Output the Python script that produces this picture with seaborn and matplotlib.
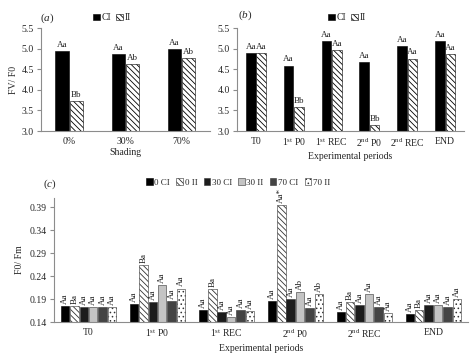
import numpy as np
import pandas as pd
import matplotlib
matplotlib.use("Agg")
import matplotlib.pyplot as plt
import seaborn as sns
from matplotlib.ticker import FixedLocator, MultipleLocator

# ---------------- data ----------------
shading = ["0%", "30%", "70%"]
a_ci = [4.95, 4.87, 5.00]
a_ii = [3.72, 4.63, 4.78]
a_ci_lab = ["Aa", "Aa", "Aa"]
a_ii_lab = ["Bb", "Ab", "Ab"]

periods = ["T0", "1$^{\\mathrm{st}}$ P0", "1$^{\\mathrm{st}}$ REC",
           "2$^{\\mathrm{nd}}$ P0", "2$^{\\mathrm{nd}}$ REC", "END"]
b_ci = [4.89, 4.59, 5.19, 4.68, 5.07, 5.19]
b_ii = [4.89, 3.58, 4.97, 3.15, 4.76, 4.88]
b_ci_lab = ["Aa", "Aa", "Aa", "Aa", "Aa", "Aa"]
b_ii_lab = ["Aa", "Bb", "Aa", "Bb", "Aa", "Aa"]

c_series = ["0 CI", "0 II", "30 CI", "30 II", "70 CI", "70 II"]
c_vals = {
    "0 CI":  [0.175, 0.180, 0.166, 0.186, 0.161, 0.157],
    "0 II":  [0.175, 0.264, 0.211, 0.395, 0.184, 0.167],
    "30 CI": [0.173, 0.183, 0.161, 0.191, 0.176, 0.176],
    "30 II": [0.173, 0.221, 0.150, 0.205, 0.201, 0.176],
    "70 CI": [0.173, 0.186, 0.166, 0.171, 0.173, 0.172],
    "70 II": [0.173, 0.213, 0.164, 0.201, 0.160, 0.191],
}
c_labs = {
    "0 CI":  ["Aa", "Aa", "Aa", "Aa", "Aa", "Aa"],
    "0 II":  ["Ba", "Ba", "Ba", "Aa*", "Ba", "Ba"],
    "30 CI": ["Aa", "Aa", "Aa", "Aa", "Aa", "Aa"],
    "30 II": ["Aa", "Aa", "Aa", "Ab", "Aa", "Aa"],
    "70 CI": ["Aa", "Aa", "Aa", "Aa", "Aa", "Aa"],
    "70 II": ["Aa", "Aa", "Aa", "Ab", "Aa", "Aa"],
}

# ---------------- style ----------------
sns.set_style("white")
plt.rcParams["font.family"] = ["Liberation Serif", "DejaVu Serif"]
plt.rcParams["mathtext.fontset"] = "custom"
plt.rcParams["mathtext.rm"] = "Liberation Serif"
plt.rcParams["mathtext.it"] = "Liberation Serif:italic"
plt.rcParams["hatch.linewidth"] = 0.6
FS = 7
SPINE = "#8c8c8c"

fig = plt.figure(figsize=(4.74, 3.56), dpi=100)
ax_a = fig.add_axes([0.0865, 0.632, 0.356, 0.289])
ax_b = fig.add_axes([0.500, 0.632, 0.479, 0.289])
ax_c = fig.add_axes([0.114, 0.0955, 0.873, 0.348])


def style_axis(ax, n):
    for s in ["top", "right"]:
        ax.spines[s].set_visible(False)
    for s in ["left", "bottom"]:
        ax.spines[s].set_color(SPINE)
        ax.spines[s].set_linewidth(0.8)
    ax.set_xlim(-0.5, n - 0.5)
    ax.xaxis.set_minor_locator(FixedLocator(np.arange(n + 1) - 0.5))
    ax.tick_params(axis="x", which="major", length=0, labelsize=FS, pad=4)
    ax.tick_params(axis="x", which="minor", length=3, color=SPINE, direction="out")
    ax.tick_params(axis="y", length=3, color=SPINE, direction="out",
                   labelsize=FS, pad=2, left=True)


# ---------------- panel (a) ----------------
df_a = pd.DataFrame({
    "cat": shading * 2,
    "val": a_ci + a_ii,
    "grp": ["CI"] * 3 + ["II"] * 3,
})
sns.barplot(data=df_a, x="cat", y="val", hue="grp", order=shading,
            hue_order=["CI", "II"], palette=["black", "white"],
            width=0.5, gap=0.06, ax=ax_a, legend=False)

# ---------------- panel (b) ----------------
df_b = pd.DataFrame({
    "cat": periods * 2,
    "val": b_ci + b_ii,
    "grp": ["CI"] * 6 + ["II"] * 6,
})
sns.barplot(data=df_b, x="cat", y="val", hue="grp", order=periods,
            hue_order=["CI", "II"], palette=["black", "white"],
            width=0.55, gap=0.08, ax=ax_b, legend=False)

for ax, labs in [(ax_a, [a_ci_lab, a_ii_lab]), (ax_b, [b_ci_lab, b_ii_lab])]:
    n = len(labs[0])
    style_axis(ax, n)
    ax.set_ylim(3.0, 5.5)
    ax.yaxis.set_major_locator(MultipleLocator(0.5))
    ax.yaxis.set_major_formatter(matplotlib.ticker.FormatStrFormatter("%.1f"))
    for i, cont in enumerate(ax.containers):
        for p in cont.patches:
            p.set_edgecolor("black")
            p.set_linewidth(0.4)
            if i == 1:
                p.set_hatch("\\\\\\\\\\\\")
        ax.bar_label(cont, labels=labs[i], fontsize=6.5, padding=1.5, color="#222222")
    ax.legend(handles=list(ax.containers), labels=["CI", "II"], ncol=2,
              frameon=False, fontsize=FS, handlelength=0.7, handleheight=0.7,
              handletextpad=0.2, columnspacing=0.5, loc="center",
              bbox_to_anchor=(0.42 if ax is ax_a else 0.485, 1.10),
              borderaxespad=0)

ax_a.set_xlabel("Shading", fontsize=FS, labelpad=2)
ax_a.set_ylabel("FV/ F0", fontsize=FS, labelpad=3)
ax_b.set_xlabel("Experimental periods", fontsize=FS, labelpad=2)
ax_b.set_ylabel("")

# ---------------- panel (c) ----------------
rows = []
for s in c_series:
    for p, v in zip(periods, c_vals[s]):
        rows.append({"cat": p, "val": v, "grp": s})
df_c = pd.DataFrame(rows)
c_colors = ["black", "white", "#1c1c1c", "#c4c4c4", "#444444", "white"]
c_hatch = [None, "\\\\\\\\\\\\", None, None, None, "...."]
sns.barplot(data=df_c, x="cat", y="val", hue="grp", order=periods,
            hue_order=c_series, palette=c_colors,
            width=0.82, gap=0.1, ax=ax_c, legend=False)
style_axis(ax_c, 6)
ax_c.set_ylim(0.14, 0.41)
ax_c.yaxis.set_major_locator(FixedLocator([0.14, 0.19, 0.24, 0.29, 0.34, 0.39]))
ax_c.yaxis.set_major_formatter(matplotlib.ticker.FormatStrFormatter("%.2f"))
for i, cont in enumerate(ax_c.containers):
    for p in cont.patches:
        p.set_edgecolor("#333333" if c_colors[i] != "black" else "black")
        p.set_linewidth(0.4)
        if c_hatch[i]:
            p.set_hatch(c_hatch[i])
    ax_c.bar_label(cont, labels=c_labs[c_series[i]], fontsize=6.5, padding=1.5,
                   rotation=90, color="#222222")
ax_c.legend(handles=list(ax_c.containers), labels=c_series, ncol=6,
            frameon=False, fontsize=6.5, handlelength=0.7, handleheight=0.7,
            handletextpad=0.2, columnspacing=0.7, loc="center",
            bbox_to_anchor=(0.445, 1.125), borderaxespad=0)
ax_c.set_xlabel("Experimental periods", fontsize=FS, labelpad=3)
ax_c.set_ylabel("F0/ Fm", fontsize=FS, labelpad=4)

# panel letters
fig.text(40 / 474, 1 - 18 / 356, "($\\mathit{a}$)", fontsize=FS + 1, va="center")
fig.text(238 / 474, 1 - 15 / 356, "($\\mathit{b}$)", fontsize=FS + 1, va="center")
fig.text(43 / 474, 1 - 184 / 356, "($\\mathit{c}$)", fontsize=FS + 1, va="center")

fig.savefig("out.png", dpi=100)
